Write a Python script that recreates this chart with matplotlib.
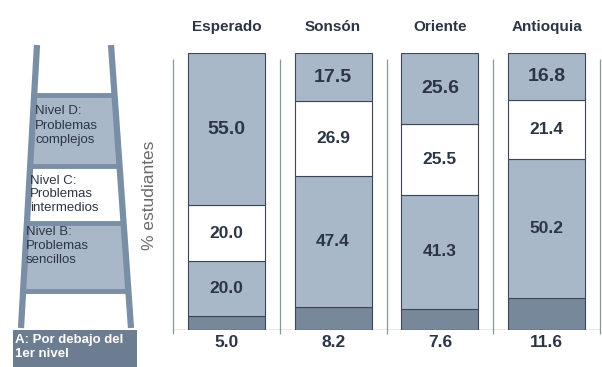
import numpy as np
import matplotlib
matplotlib.use("Agg")
import matplotlib.pyplot as plt
from matplotlib.patches import Polygon, Rectangle

# datos
regiones = ["Esperado", "Sonsón", "Oriente", "Antioquia"]
nivel_a = [5.0, 8.2, 7.6, 11.6]
nivel_b = [20.0, 47.4, 41.3, 50.2]
nivel_c = [20.0, 26.9, 25.5, 21.4]
nivel_d = [55.0, 17.5, 25.6, 16.8]

AZUL = "#a9b8c9"
OSCURO = "#78889b"
TEXTO = "#2b3546"
RIEL = "#7a8ea6"
LINEA = "#8a9a96"

plt.rcParams["font.family"] = ["Liberation Sans", "DejaVu Sans"]

fig = plt.figure(figsize=(6.02, 3.67), dpi=100)

# escalera (decoracion en coordenadas de pixel)
bg = fig.add_axes([0, 0, 1, 1])
bg.set_xlim(0, 602)
bg.set_ylim(367, 0)
bg.axis("off")


def rail_x(y, top, bottom):
    return top + (bottom - top) * (y - 45) / (328 - 45)


def box(y0, y1, color):
    pts = [(rail_x(y0, 37, 21), y0), (rail_x(y0, 111, 131), y0),
           (rail_x(y1, 111, 131), y1), (rail_x(y1, 37, 21), y1)]
    bg.add_patch(Polygon(pts, closed=True, facecolor=color, edgecolor="none"))


box(95, 166, AZUL)
box(166, 223, "white")
box(223, 291, AZUL)
for yr in [95, 166, 223, 291]:
    bg.plot([rail_x(yr, 37, 21), rail_x(yr, 111, 131)], [yr, yr], color=RIEL, lw=3.5,
            solid_capstyle="butt")
bg.plot([37, 21], [45, 328], color=RIEL, lw=4.5, solid_capstyle="butt")
bg.plot([111, 131], [45, 328], color=RIEL, lw=4.5, solid_capstyle="butt")

bg.text(35, 105, "Nivel D:\nProblemas\ncomplejos", fontsize=9.5, color=TEXTO,
        va="top", ha="left", linespacing=1.3)
bg.text(30, 175, "Nivel C:\nProblemas\nintermedios", fontsize=9.5, color=TEXTO,
        va="top", ha="left", linespacing=1.15)
bg.text(26, 226, "Nivel B:\nProblemas\nsencillos", fontsize=9.5, color=TEXTO,
        va="top", ha="left", linespacing=1.2)

bg.add_patch(Rectangle((13, 330), 124, 40, facecolor="#6c7d91", edgecolor="none"))
bg.text(15, 334, "A: Por debajo del\n1er nivel", fontsize=9.5, color="white",
        fontweight="bold", va="top", ha="left", linespacing=1.2)

bg.text(150, 195, "% estudiantes", rotation=90, fontsize=12.5, color="#6b6b6b",
        ha="center", va="center")

# barras
ax = fig.add_axes([173 / 602, 1 - 330 / 367, 427 / 602, 277 / 367])
x = np.arange(len(regiones))
w = 0.72
a = np.array(nivel_a)
b = np.array(nivel_b)
c = np.array(nivel_c)
d = np.array(nivel_d)

ax.bar(x, a, w, color=OSCURO, edgecolor="#3c4656", lw=0.8)
ax.bar(x, b, w, bottom=a, color=AZUL, edgecolor="#3c4656", lw=0.8)
ax.bar(x, c, w, bottom=a + b, color="white", edgecolor="#3c4656", lw=0.8)
ax.bar(x, d, w, bottom=a + b + c, color=AZUL, edgecolor="#3c4656", lw=0.8)

for i in range(len(regiones)):
    ax.text(x[i], a[i] + b[i] / 2, f"{b[i]:.1f}", ha="center", va="center",
            fontsize=12.5, fontweight="bold", color=TEXTO)
    ax.text(x[i], a[i] + b[i] + c[i] / 2, f"{c[i]:.1f}", ha="center", va="center",
            fontsize=12.5, fontweight="bold", color=TEXTO)
    ax.text(x[i], a[i] + b[i] + c[i] + d[i] / 2, f"{d[i]:.1f}", ha="center",
            va="center", fontsize=14, fontweight="bold", color=TEXTO)
    ax.text(x[i], -4.5, f"{a[i]:.1f}", ha="center", va="center",
            fontsize=12.5, fontweight="bold", color=TEXTO)
    ax.text(x[i], 109.5, regiones[i], ha="center", va="center",
            fontsize=11, fontweight="bold", color=TEXTO)

ax.set_xlim(-0.5, 3.5)
ax.set_ylim(0, 100)
ax.vlines(np.arange(-0.5, 4, 1), -1.5, 98, color=LINEA, lw=0.9, clip_on=False)
ax.axhline(0, color="#555555", lw=0.9)
ax.axis("off")

fig.savefig("out.png", dpi=100)
